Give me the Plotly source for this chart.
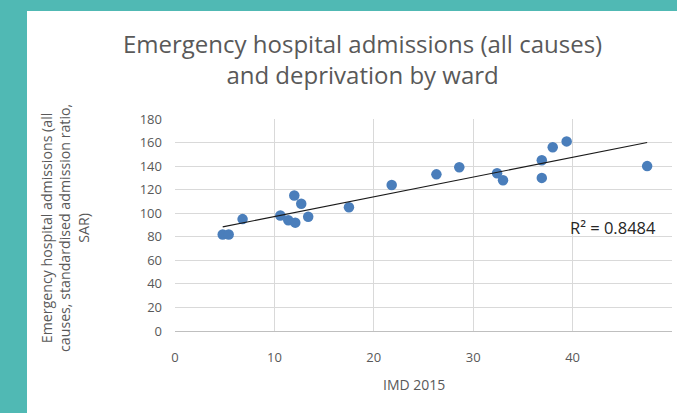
import numpy as np
import plotly.graph_objects as go

# IMD 2015 score vs emergency admissions SAR, per ward
imd = [4.8, 5.4, 6.8, 10.6, 11.4, 12.1, 12.0, 12.7, 13.4, 17.5,
       21.8, 26.3, 28.6, 32.4, 33.0, 36.9, 36.9, 38.0, 39.4, 47.5]
sar = [82, 82, 95, 98, 94, 92, 115, 108, 97, 105,
       124, 133, 139, 134, 128, 145, 130, 156, 161, 140]

x_ticks = [0, 10, 20, 30, 40, 50]
y_ticks = [0, 20, 40, 60, 80, 100, 120, 140, 160, 180]
r2_label = "R² = 0.8484"

W, H = 677, 413
L, R, T, B = 175, 5, 119, 82
pw, ph = W - L - R, H - T - B

TEAL = "#50b9b4"
GREY_TXT = "#595959"
FONT = "Open Sans"

# linear trendline fitted from the points
slope, icpt = np.polyfit(imd, sar, 1)
x_fit = np.array([min(imd), max(imd)])
y_fit = slope * x_fit + icpt

fig = go.Figure()
fig.add_trace(go.Scatter(
    x=imd, y=sar, mode="markers",
    marker=dict(color="#4a7ebb", size=10.5, line=dict(width=0)),
    showlegend=False,
))
fig.add_trace(go.Scatter(
    x=x_fit, y=y_fit, mode="lines",
    line=dict(color="#1a1a1a", width=1.2),
    showlegend=False,
))


def px_x(p):
    return (p - L) / pw


def px_y(p):
    return (H - B - p) / ph


def label(text, x, y, size, color=GREY_TXT, angle=0):
    return dict(text=text, xref="paper", yref="paper", x=px_x(x), y=px_y(y),
                xanchor="center", yanchor="middle", textangle=angle, align="center",
                showarrow=False, font=dict(size=size, color=color))


fig.update_layout(
    width=W, height=H,
    margin=dict(l=L, r=R, t=T, b=B),
    paper_bgcolor="white",
    plot_bgcolor="white",
    font=dict(family=FONT, color=GREY_TXT, size=12),
    # teal frame along the top and left edges
    shapes=[
        dict(type="rect", xref="paper", yref="paper", layer="below",
             x0=px_x(0), x1=px_x(W + 10), y0=px_y(0), y1=px_y(11),
             fillcolor=TEAL, line=dict(width=0)),
        dict(type="rect", xref="paper", yref="paper", layer="below",
             x0=px_x(0), x1=px_x(27), y0=px_y(0), y1=px_y(H),
             fillcolor=TEAL, line=dict(width=0)),
    ],
    annotations=[
        label("Emergency hospital admissions (all causes)<br>and deprivation by ward", 362, 59, 24),
        label("Emergency hospital admissions (all<br>causes, standardised admission ratio,<br>SAR)",
              65, 228, 14.2, angle=-90),
        label("IMD 2015", 414, 384, 14),
        label(r2_label, 613, 227, 16.5, color="#262626"),
    ],
)
fig.update_xaxes(
    range=[0, 50], tickvals=x_ticks, showgrid=True, gridcolor="#d9d9d9", gridwidth=1,
    zeroline=False, showline=True, linecolor="#bfbfbf", linewidth=1,
    ticks="", tickfont=dict(size=13, color=GREY_TXT), ticklabelstandoff=14,
)
fig.update_yaxes(
    range=[0, 180], tickvals=y_ticks, showgrid=True, gridcolor="#d9d9d9", gridwidth=1,
    zeroline=False, showline=False,
    ticks="", tickfont=dict(size=13, color=GREY_TXT), ticklabelstandoff=12,
)

fig.write_html(
    "out.html",
    config={"displayModeBar": False},
    post_script=(
        "document.body.style.margin='0';"
        "document.body.style.overflow='hidden';"
        "document.documentElement.style.overflow='hidden';"
        "document.documentElement.style.background='white';"
    ),
)
